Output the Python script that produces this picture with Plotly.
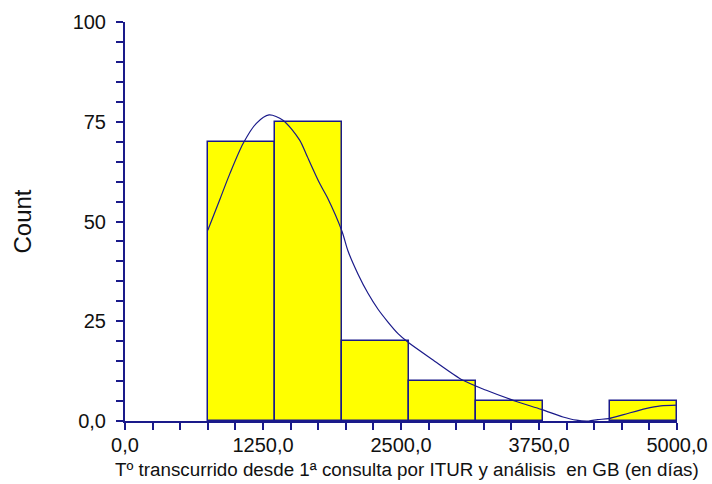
import plotly.graph_objects as go

# ---- data ----
bin_start = 750.0
bin_width = 607.14
counts = [70, 75, 20, 10, 5, 0, 5]

curve_x = [750, 860, 950, 1071, 1190, 1305, 1431, 1582, 1652, 1764, 1833, 1966,
           2020, 2111, 2201, 2292, 2382, 2473, 2570, 2780, 3062, 3273, 3545,
           3772, 3967, 4088, 4200, 4281, 4380, 4516, 4716, 4852, 5000]
curve_y = [47.8, 55.6, 62.0, 69.6, 74.6, 76.7, 75.4, 70.4, 66.2, 59.5, 56.0, 47.5,
           42.6, 36.8, 32.0, 28.0, 24.8, 21.9, 19.6, 15.5, 10.2, 7.7, 4.9,
           2.9, 1.0, 0.2, 0.0, 0.35, 0.6, 1.6, 3.1, 3.8, 4.0]

x_tickvals = [0, 1250, 2500, 3750, 5000]
x_ticktext = ["0,0", "1250,0", "2500,0", "3750,0", "5000,0"]
y_tickvals = [0, 25, 50, 75, 100]
y_ticktext = ["0,0", "25", "50", "75", "100"]

x_title = "Tº transcurrido desde 1ª consulta por ITUR y análisis  en GB (en días)"
y_title = "Count"

NAVY = "#1a1a8a"
FONT = "Liberation Sans, Arial, sans-serif"

centers = [bin_start + bin_width * (i + 0.5) for i in range(len(counts))]
bx = [c for c, n in zip(centers, counts) if n > 0]
by = [n for n in counts if n > 0]

fig = go.Figure()
fig.add_trace(go.Bar(
    x=bx, y=by, width=bin_width,
    marker=dict(color="#FFFF00", line=dict(color=NAVY, width=1.5)),
    hoverinfo="skip",
))
fig.add_trace(go.Scatter(
    x=curve_x, y=curve_y, mode="lines",
    line=dict(color=NAVY, width=1.2, shape="spline", smoothing=0.8),
    hoverinfo="skip",
))

fig.update_layout(
    width=712, height=484,
    margin=dict(l=125, r=35, t=22, b=63, autoexpand=False),
    paper_bgcolor="white", plot_bgcolor="white",
    showlegend=False, bargap=0,
    font=dict(family=FONT, size=20, color="#111111"),
    annotations=[dict(
        text=x_title, xref="paper", yref="paper",
        x=(407 - 125) / 552, y=-48 / 399, xanchor="center", yanchor="middle",
        showarrow=False, font=dict(size=18.8, color="#111111"),
    )],
)
fig.update_xaxes(
    range=[0, 5000], showgrid=False, zeroline=False, automargin=False,
    showline=True, linecolor=NAVY, linewidth=2,
    tickmode="array", tickvals=x_tickvals, ticktext=x_ticktext,
    ticks="outside", ticklen=7, tickwidth=2, tickcolor=NAVY,
    minor=dict(tickmode="linear", tick0=0, dtick=250, ticks="outside",
               ticklen=7, tickwidth=2, tickcolor=NAVY, showgrid=False),
    tickfont=dict(size=20), ticklabeloverflow="allow", ticklabelstandoff=-2,
)
fig.update_yaxes(
    range=[0, 100], showgrid=False, zeroline=False, automargin=False,
    showline=True, linecolor=NAVY, linewidth=2,
    tickmode="array", tickvals=y_tickvals, ticktext=y_ticktext,
    ticks="outside", ticklen=7, tickwidth=2, tickcolor=NAVY,
    minor=dict(tickmode="linear", tick0=0, dtick=5, ticks="outside",
               ticklen=7, tickwidth=2, tickcolor=NAVY, showgrid=False),
    tickfont=dict(size=20), ticklabelstandoff=6,
    title=dict(text=y_title, font=dict(size=24), standoff=34),
)

fig.write_html("out.html")
